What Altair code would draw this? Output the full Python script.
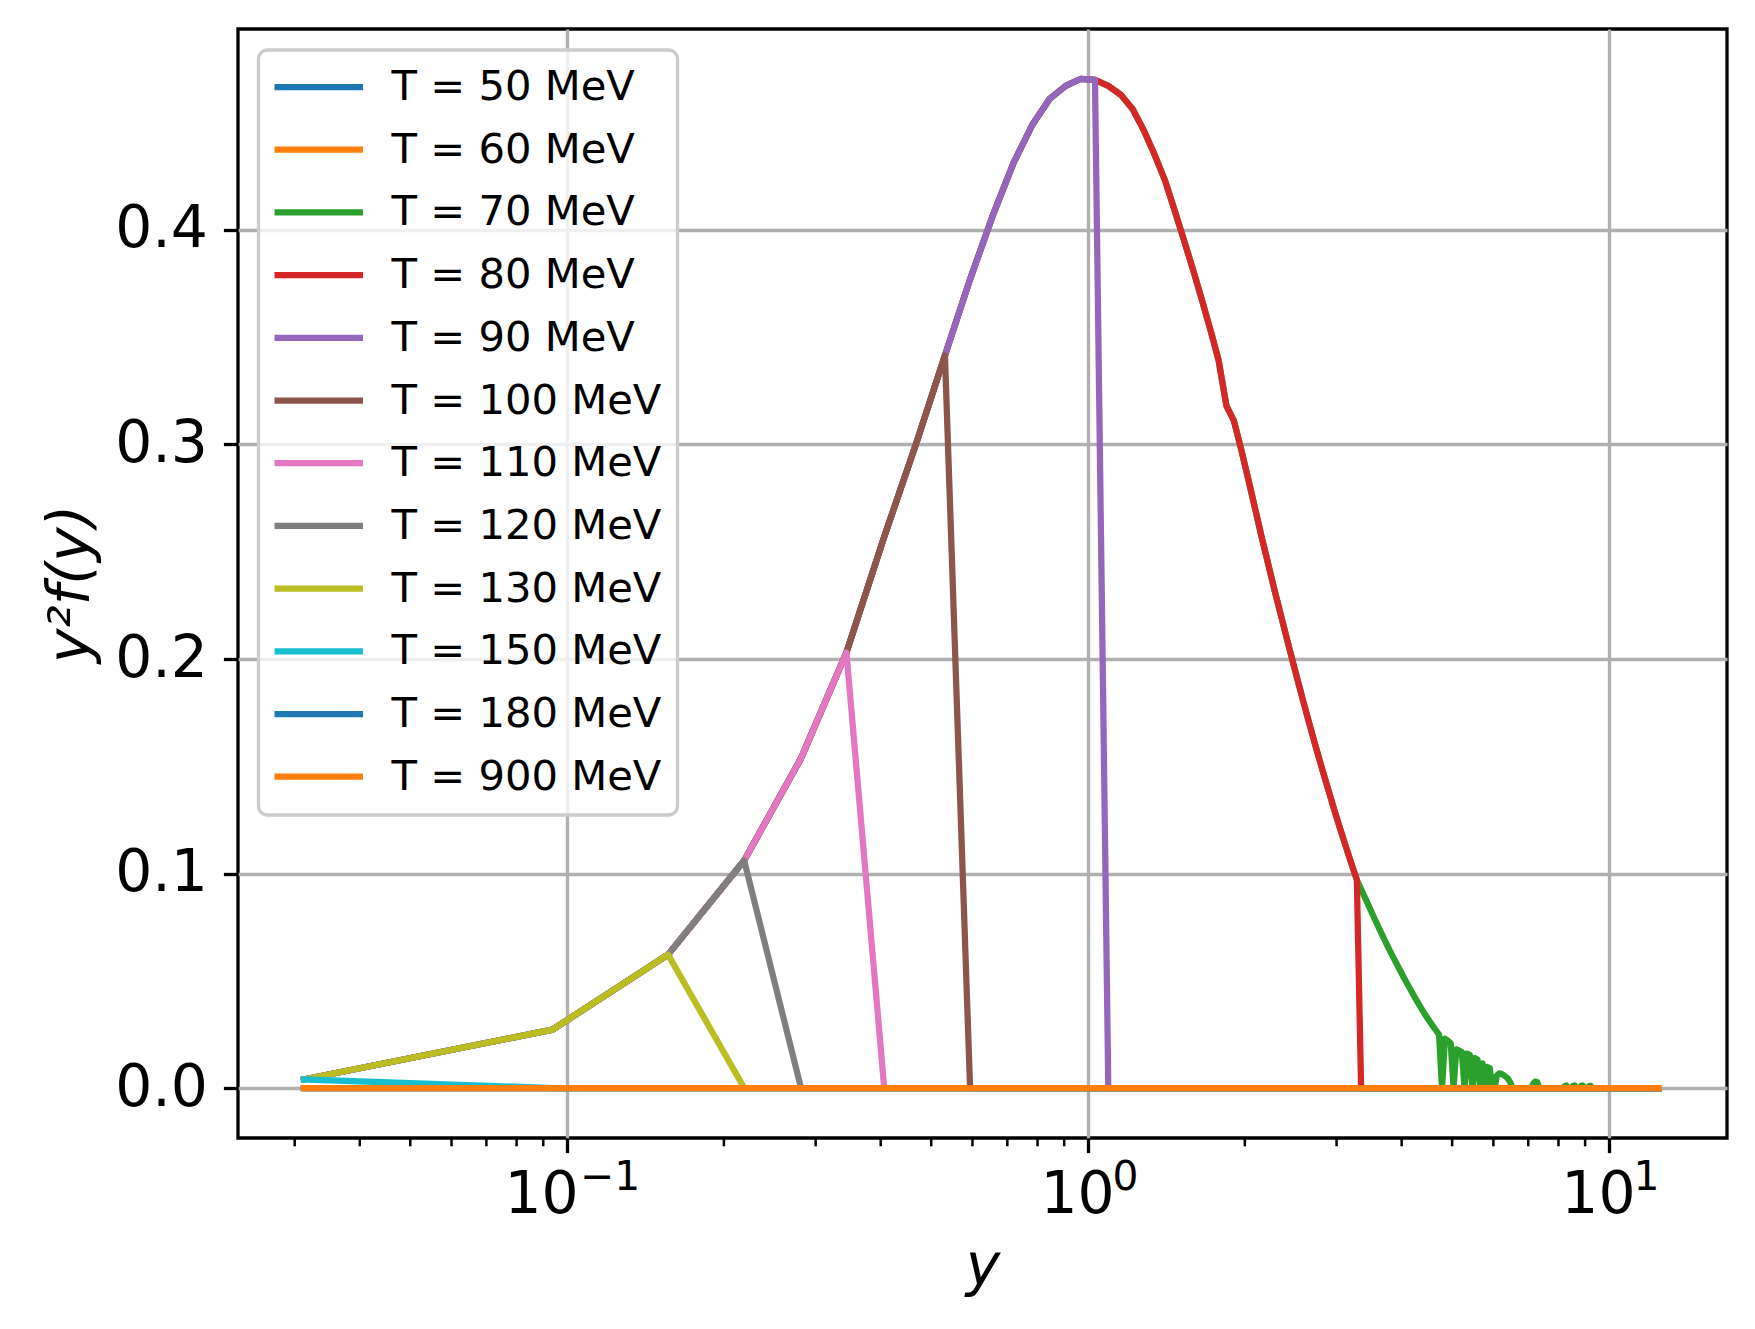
import altair as alt
import pandas as pd

# ---------------- data ----------------
T_LABELS = ["T = 50 MeV", "T = 60 MeV", "T = 70 MeV", "T = 80 MeV", "T = 90 MeV",
            "T = 100 MeV", "T = 110 MeV", "T = 120 MeV", "T = 130 MeV",
            "T = 150 MeV", "T = 180 MeV", "T = 900 MeV"]
T_COLORS = ["#1f77b4", "#ff7f0e", "#2ca02c", "#d62728", "#9467bd", "#8c564b",
            "#e377c2", "#7f7f7f", "#bcbd22", "#17becf", "#1f77b4", "#ff7f0e"]

# momentum grid points (y) where the curves are resolved
GRID_Y = [0.03125, 0.09375, 0.15625, 0.21875, 0.28125, 0.34375, 0.40625, 0.46875,
          0.53125, 0.59375, 0.65625, 0.71875, 0.78125, 0.84375, 0.90625, 0.96875,
          1.03125, 1.09375, 1.15625, 1.21875, 1.28125, 1.34375, 1.40625, 1.46875,
          1.53125, 1.59375, 1.65625, 1.71875, 1.78125, 1.84375, 1.90625, 1.96875,
          2.03125, 2.09375, 2.15625, 2.21875, 2.28125, 2.34375, 2.40625, 2.46875,
          2.53125, 2.59375, 2.65625, 2.71875, 2.78125, 2.84375, 2.90625, 2.96875,
          3.03125, 3.09375, 3.15625, 3.21875, 3.28125]
# common y^2 f(y) values on that grid (all curves follow it until their cut)
ENVELOPE = [0.0040, 0.0272, 0.0622, 0.1061, 0.1537, 0.2030, 0.2570, 0.3010,
            0.3415, 0.3770, 0.4067, 0.4310, 0.4489, 0.4611, 0.4672, 0.4705,
            0.4700, 0.4672, 0.4630, 0.4563, 0.4462, 0.4348, 0.4229, 0.4086,
            0.3946, 0.3808, 0.3669, 0.3532, 0.3392, 0.3180, 0.3110, 0.2976,
            0.2837, 0.2699, 0.2564, 0.2441, 0.2319, 0.2207, 0.2098, 0.1993,
            0.1893, 0.1796, 0.1704, 0.1615, 0.1531, 0.1450, 0.1374, 0.1298,
            0.1227, 0.1159, 0.1094, 0.1031, 0.0971]

# T = 70 MeV continues past y = 3.28 with a noisy tail
GREEN_TAIL_Y = [3.34375, 3.40625, 3.46875, 3.53125, 3.59375, 3.65625, 3.71875, 3.78125,
                3.84375, 3.90625, 3.96875, 4.03125, 4.09375, 4.15625, 4.21875, 4.28125,
                4.34375, 4.40625, 4.46875, 4.53125, 4.59375, 4.65625, 4.71875,
                4.78125, 4.84375, 4.90625, 4.96875, 5.03125, 5.09375, 5.15625, 5.21875,
                5.28125, 5.34375, 5.40625, 5.46875, 5.53125, 5.59375, 5.65625, 5.71875,
                5.78125, 5.84375, 5.90625, 5.96875, 6.03125, 6.09375, 6.15625, 6.21875,
                6.28125, 6.34375, 6.40625, 6.46875, 6.53125,
                7.09375, 7.15625, 7.21875, 7.28125, 7.34375,
                8.15625, 8.21875, 8.28125, 8.34375,
                8.46875, 8.53125, 8.59375, 8.65625,
                8.78125, 8.84375, 8.90625, 8.96875,
                9.09375, 9.15625, 9.21875, 9.28125,
                12.46875]
GREEN_TAIL_V = [0.0927, 0.0884, 0.0842, 0.0801, 0.0761, 0.0722, 0.0685, 0.0649,
                0.0615, 0.0582, 0.0550, 0.0519, 0.0489, 0.0460, 0.0432, 0.0405,
                0.0379, 0.0354, 0.0331, 0.0309, 0.0288, 0.0268, 0.0249,
                0.0, 0.0230, 0.0220, 0.0208, 0.0, 0.0180, 0.0174, 0.0168,
                0.0, 0.0160, 0.0155, 0.0, 0.0140, 0.0132, 0.0, 0.0115,
                0.0, 0.0098, 0.0092, 0.0, 0.0, 0.0058, 0.0068, 0.0066,
                0.0060, 0.0052, 0.0042, 0.0025, 0.0,
                0.0, 0.0020, 0.0030, 0.0028, 0.0,
                0.0, 0.0008, 0.0012, 0.0,
                0.0, 0.0010, 0.0012, 0.0,
                0.0, 0.0010, 0.0012, 0.0,
                0.0, 0.0008, 0.0010, 0.0,
                0.0]

# last grid index each truncated curve keeps, and the grid point where it hits 0
CUT_INDEX = {"T = 80 MeV": 52, "T = 90 MeV": 16, "T = 100 MeV": 8, "T = 110 MeV": 5,
             "T = 120 MeV": 3, "T = 130 MeV": 2, "T = 150 MeV": 0}
DROP_Y = {"T = 80 MeV": 3.34375, "T = 90 MeV": 1.09375, "T = 100 MeV": 0.59375,
          "T = 110 MeV": 0.40625, "T = 120 MeV": 0.28125, "T = 130 MeV": 0.21875,
          "T = 150 MeV": 0.09375}
Y_START = 0.03125
Y_END = 12.46875

X_MAJOR_TICKS = [0.1, 1, 10]
X_TICK_EXPONENTS = ["−1", "0", "1"]
X_MINOR_TICKS = [0.03, 0.04, 0.05, 0.06, 0.07, 0.08, 0.09,
                 0.2, 0.3, 0.4, 0.5, 0.6, 0.7, 0.8, 0.9,
                 2, 3, 4, 5, 6, 7, 8, 9]
Y_TICKS = [0.0, 0.1, 0.2, 0.3, 0.4]
X_DOMAIN = [0.02335, 16.85]
Y_DOMAIN = [-0.0233, 0.4937]

# ---------------- layout / style ----------------
W, H = 1489, 1109
FONT = "DejaVu Sans"
LW = 6.25
TICK_FS = 58.3


def series(label):
    if label == "T = 70 MeV":
        xs = GRID_Y + GREEN_TAIL_Y
        vs = ENVELOPE + GREEN_TAIL_V
    elif label in CUT_INDEX:
        k = CUT_INDEX[label]
        xs = GRID_Y[:k + 1] + [DROP_Y[label], Y_END]
        vs = ENVELOPE[:k + 1] + [0.0, 0.0]
    else:
        xs = [Y_START, Y_END]
        vs = [0.0, 0.0]
    return pd.DataFrame({"yv": xs, "f": vs, "label": label})


x_scale = alt.Scale(type="log", domain=X_DOMAIN, nice=False)
y_scale = alt.Scale(domain=Y_DOMAIN, nice=False, zero=False)

x_axis = alt.Axis(values=X_MAJOR_TICKS, labelExpr="'10'",
                  labelOffset={"condition": {"test": "datum.value < 0.5", "value": -26},
                               "value": -11},
                  grid=True, gridColor="#b0b0b0", gridWidth=3.3, domain=False,
                  ticks=True, tickColor="black", tickWidth=3.3, tickSize=14.6,
                  labelFont=FONT, labelFontSize=TICK_FS, labelColor="black",
                  labelPadding=14, labelFlush=False, labelOverlap=False,
                  title="y", titleFont=FONT, titleFontSize=TICK_FS, titleFontStyle="italic",
                  titleFontWeight="normal", titleColor="black",
                  titleX=W / 2, titleY=146, titleAlign="center", titleBaseline="alphabetic")
y_axis = alt.Axis(values=Y_TICKS, format=".1f",
                  grid=True, gridColor="#b0b0b0", gridWidth=3.3, domain=False,
                  ticks=True, tickColor="black", tickWidth=3.3, tickSize=14.6,
                  labelFont=FONT, labelFontSize=TICK_FS, labelColor="black",
                  labelPadding=16, labelFlush=False, labelOverlap=False,
                  title="y²f(y)", titleFont=FONT, titleFontSize=TICK_FS, titleFontStyle="italic",
                  titleFontWeight="normal", titleColor="black", titleAngle=270,
                  titleX=-167, titleY=H / 2, titleAlign="center", titleBaseline="middle")

x_enc = alt.X("yv:Q", scale=x_scale, axis=x_axis)
y_enc = alt.Y("f:Q", scale=y_scale, axis=y_axis)

legend = alt.Legend(orient="none", legendX=20.5, legendY=21, symbolType="stroke",
                    symbolSize=8100, symbolStrokeWidth=LW, symbolOffset=-5,
                    labelFont=FONT, labelFontSize=41.7, labelColor="black", labelOffset=25,
                    rowPadding=19.7, padding=16, cornerRadius=9,
                    fillColor="rgba(255,255,255,0.8)", strokeColor="#cccccc",
                    clipHeight=42, zindex=1, labelLimit=600)
color_enc = alt.Color("label:N", scale=alt.Scale(domain=T_LABELS, range=T_COLORS),
                      legend=legend, title=None)

minor = alt.Chart(pd.DataFrame({"yv": X_MINOR_TICKS})).mark_rule(
    color="black", strokeWidth=2.5
).encode(x=x_enc, y=alt.value(H), y2=alt.value(H + 8.3))

exp_df = pd.DataFrame({"yv": X_MAJOR_TICKS, "exp": X_TICK_EXPONENTS})
exp_neg = alt.Chart(exp_df.iloc[:1]).mark_text(
    font=FONT, fontSize=TICK_FS * 0.7, align="left", baseline="alphabetic", dx=13, color="black"
).encode(x=x_enc, y=alt.value(H + 52), text="exp:N")
exp_pos = alt.Chart(exp_df.iloc[1:]).mark_text(
    font=FONT, fontSize=TICK_FS * 0.7, align="left", baseline="alphabetic", dx=24.6, color="black"
).encode(x=x_enc, y=alt.value(H + 52), text="exp:N")

layers = [minor, exp_neg, exp_pos]
for lab in T_LABELS:
    layers.append(
        alt.Chart(series(lab)).mark_line(strokeWidth=LW, strokeJoin="round", strokeCap="square")
        .encode(x=x_enc, y=y_enc, color=color_enc)
    )

chart = alt.layer(*layers).properties(
    width=W, height=H,
    padding={"left": 230, "top": 21, "right": 20, "bottom": 170},
    autosize=alt.AutoSizeParams(type="none"),
    background="white",
).configure_view(stroke="black", strokeWidth=3.3).configure_legend(strokeWidth=3.3)

chart.save("out.html", embed_options={"renderer": "svg", "actions": False})
